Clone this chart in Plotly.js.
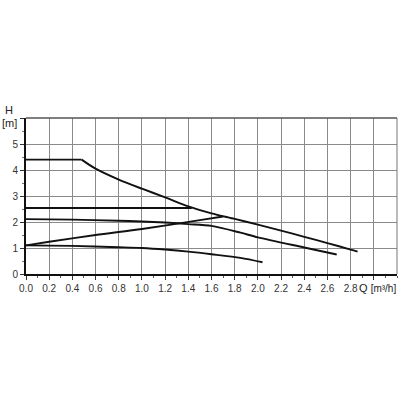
<!DOCTYPE html>
<html><head><meta charset="utf-8">
<script src="https://cdn.plot.ly/plotly-3.0.1.min.js"></script>
<style>html,body{margin:0;padding:0;background:#fff}#c{width:400px;height:400px}</style>
</head><body><div id="c"></div>
<script>
// Max speed curve: flat part and falling part
const maxFlatQ = [0, 0.48];
const maxFlatH = [4.4, 4.4];
const maxQ = [0.48, 0.6, 0.8, 1.0, 1.2, 1.4, 1.6, 1.8, 2.0, 2.2, 2.4, 2.6, 2.8, 2.86];
const maxH = [4.4, 4.05, 3.63, 3.28, 2.95, 2.6, 2.33, 2.12, 1.9, 1.67, 1.43, 1.19, 0.94, 0.86];
// Constant pressure line
const constQ = [0, 1.43];
const constH = [2.54, 2.54];
// Middle curve
const midQ = [0, 0.4, 0.8, 1.0, 1.2, 1.4, 1.6, 1.85, 2.0, 2.4, 2.68];
const midH = [2.11, 2.09, 2.05, 2.02, 1.98, 1.92, 1.85, 1.59, 1.41, 1.02, 0.75];
// Proportional pressure (rising) line
const propQ = [0, 0.2, 0.6, 1.0, 1.5, 1.7];
const propH = [1.1, 1.24, 1.5, 1.73, 2.07, 2.21];
// Minimum curve
const minQ = [0, 0.4, 0.8, 1.0, 1.2, 1.4, 1.6, 1.85, 2.04];
const minH = [1.1, 1.08, 1.03, 1.0, 0.94, 0.86, 0.76, 0.62, 0.45];

const xTickVals = [0, 0.2, 0.4, 0.6, 0.8, 1.0, 1.2, 1.4, 1.6, 1.8, 2.0, 2.2, 2.4, 2.6, 2.8, 3.0];
const xTickText = ["0.0","0.2","0.4","0.6","0.8","1.0","1.2","1.4","1.6","1.8","2.0","2.2","2.4","2.6","2.8",""];
const yTickVals = [0, 1, 2, 3, 4, 5, 6];
const yTickText = ["0","1","2","3","4","5",""];

const mk = (x, y, shape) => ({x, y, mode: 'lines', line: {color: '#111', width: 1.9, shape: shape || 'linear', smoothing: 0.8}, hoverinfo: 'skip', showlegend: false});
const data = [
  mk(maxFlatQ, maxFlatH), mk(maxQ, maxH, 'spline'), mk(constQ, constH),
  mk(midQ, midH, 'spline'), mk(propQ, propH, 'spline'), mk(minQ, minH, 'spline')
];

const layout = {
  width: 400, height: 400,
  margin: {l: 26, r: 3, t: 118, b: 126},
  paper_bgcolor: '#fff', plot_bgcolor: '#fff',
  font: {family: 'Liberation Sans, Arial, sans-serif', size: 10, color: '#333'},
  xaxis: {
    range: [0, 3.2], tickmode: 'array', tickvals: xTickVals, ticktext: xTickText,
    showgrid: true, gridcolor: '#8a8a8a', gridwidth: 1,
    showline: true, linecolor: '#111', linewidth: 2, zeroline: false,
    ticks: 'outside', ticklen: 4, tickcolor: '#333', tickwidth: 1,
    minor: {tick0: 0, dtick: 0.1, ticks: 'outside', ticklen: 2, tickcolor: '#555', showgrid: false},
    fixedrange: true
  },
  yaxis: {
    range: [0, 6], tickmode: 'array', tickvals: yTickVals, ticktext: yTickText,
    showgrid: true, gridcolor: '#8a8a8a', gridwidth: 1,
    showline: true, linecolor: '#111', linewidth: 2, zeroline: false,
    ticks: 'outside', ticklen: 4, tickcolor: '#333', tickwidth: 1,
    minor: {tick0: 0, dtick: 0.5, ticks: 'outside', ticklen: 2, tickcolor: '#777', showgrid: false},
    fixedrange: true
  },
  shapes: [
    {type: 'line', xref: 'paper', yref: 'paper', x0: 0, x1: 1, y0: 1, y1: 1, line: {color: '#555', width: 1.5}},
    {type: 'line', xref: 'paper', yref: 'paper', x0: 1, x1: 1, y0: 0, y1: 1, line: {color: '#777', width: 1}}
  ],
  annotations: [
    {text: 'H', xref: 'paper', yref: 'paper', x: -0.045, y: 1.05, xanchor: 'center', yanchor: 'middle', showarrow: false, font: {size: 11, color: '#222'}},
    {text: '[m]', xref: 'paper', yref: 'paper', x: -0.045, y: 0.965, xanchor: 'center', yanchor: 'middle', showarrow: false, font: {size: 11, color: '#222'}},
    {text: 'Q <span style="font-size:10px">[m³/h]</span>', xref: 'paper', yref: 'paper', x: 1.003, y: -0.09, xanchor: 'right', yanchor: 'middle', showarrow: false, font: {size: 11, color: '#222'}}
  ]
};
Plotly.newPlot('c', data, layout, {staticPlot: true, displayModeBar: false});
</script></body></html>
